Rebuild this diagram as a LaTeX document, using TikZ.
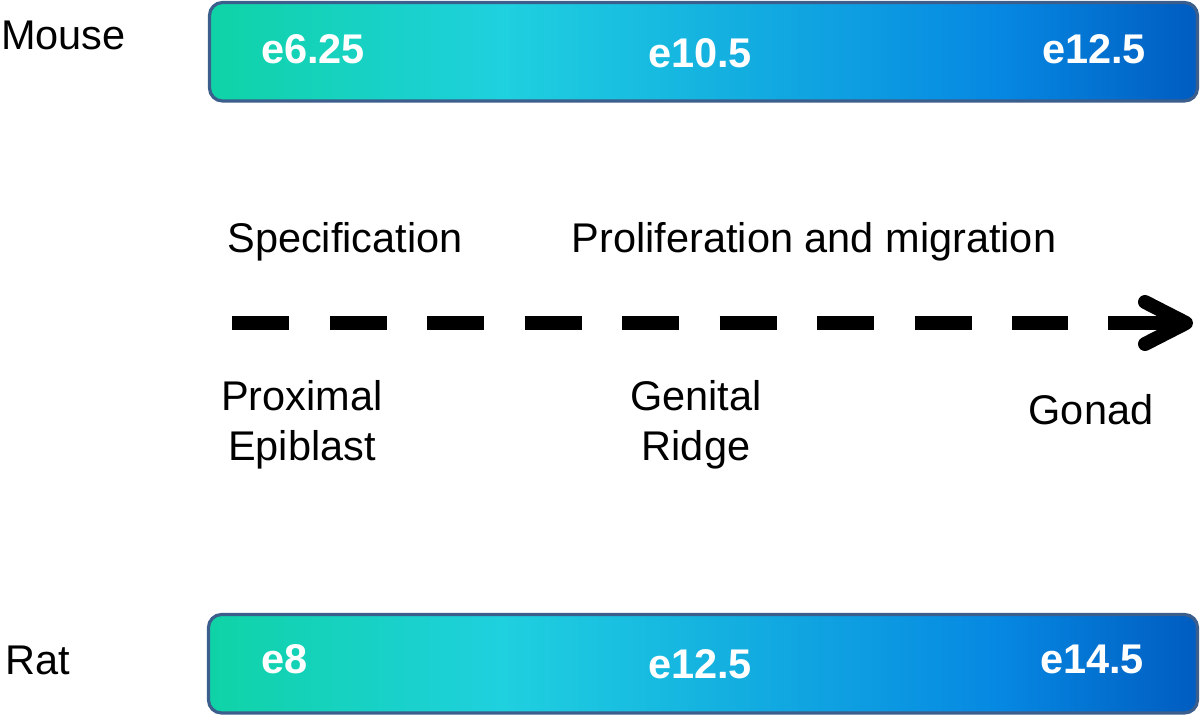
\documentclass[tikz,border=0pt]{standalone}
\usepackage{fontspec}
\setmainfont{Liberation Sans}
\definecolor{barL}{HTML}{0FD3A6}
\definecolor{barM}{HTML}{1FD0DF}
\definecolor{barN}{HTML}{0688E2}
\definecolor{barR}{HTML}{005CC0}
\definecolor{barB}{HTML}{3B5E8C}
\pgfdeclarehorizontalshading{barshade}{100bp}{color(0bp)=(barL); color(25bp)=(barL); color(40bp)=(barM); color(65bp)=(barN); color(75bp)=(barR); color(100bp)=(barR)}
\begin{document}
\begin{tikzpicture}[x=1pt,y=-1pt,
  lbl/.style={font=\fontsize{41.5}{50}\selectfont, inner sep=0pt, text=black},
  stage/.style={font=\fontsize{41.5}{50}\selectfont\bfseries, inner sep=0pt, text=white, anchor=base},
  two/.style={lbl, align=center},
  bar/.style={rounded corners=13pt, shading=barshade, draw=barB, line width=3.2pt}
]
\useasboundingbox (0,0) rectangle (1200,716);
% bars
\path[bar] (209.5,2.5) rectangle (1197.5,101);
\path[bar] (208.5,614.5) rectangle (1197.5,713);
% species labels
\node[lbl, anchor=west] (mouse) at (1,35) {Mouse};
\node[lbl, anchor=west] (rat) at (5,660) {Rat};
% stage labels
\node[stage] (m1) at (313,63) {e6.25};
\node[stage] (m2) at (700,67) {e10.5};
\node[stage] (m3) at (1094,63) {e12.5};
\node[stage] (r1) at (285,673) {e8};
\node[stage] (r2) at (700,678) {e12.5};
\node[stage] (r3) at (1092,673) {e14.5};
% phases
\node[lbl] (spec) at (345,242) {Specification};
\node[lbl] (prol) at (814,242) {Proliferation and migration};
% locations
\node[two] (prox) at (302,425) {Proximal\\Epiblast};
\node[two] (gen) at (696,425) {Genital\\Ridge};
\node[lbl] (gon) at (1091,410) {Gonad};
% arrow
\coordinate (ds) at (232,323);
\coordinate (de) at (1068,323);
\coordinate (as) at (1108,323);
\coordinate (tip) at (1186,323);
\coordinate (wu) at (1145,302);
\coordinate (wd) at (1145,344);
\draw[line width=14pt, dash pattern=on 57pt off 40.5pt] (ds) -- (de);
\draw[line width=14pt] (as) -- (tip);
\draw[line width=14pt, line cap=round, line join=round] (wu) -- (tip) -- (wd);
\end{tikzpicture}
\end{document}
